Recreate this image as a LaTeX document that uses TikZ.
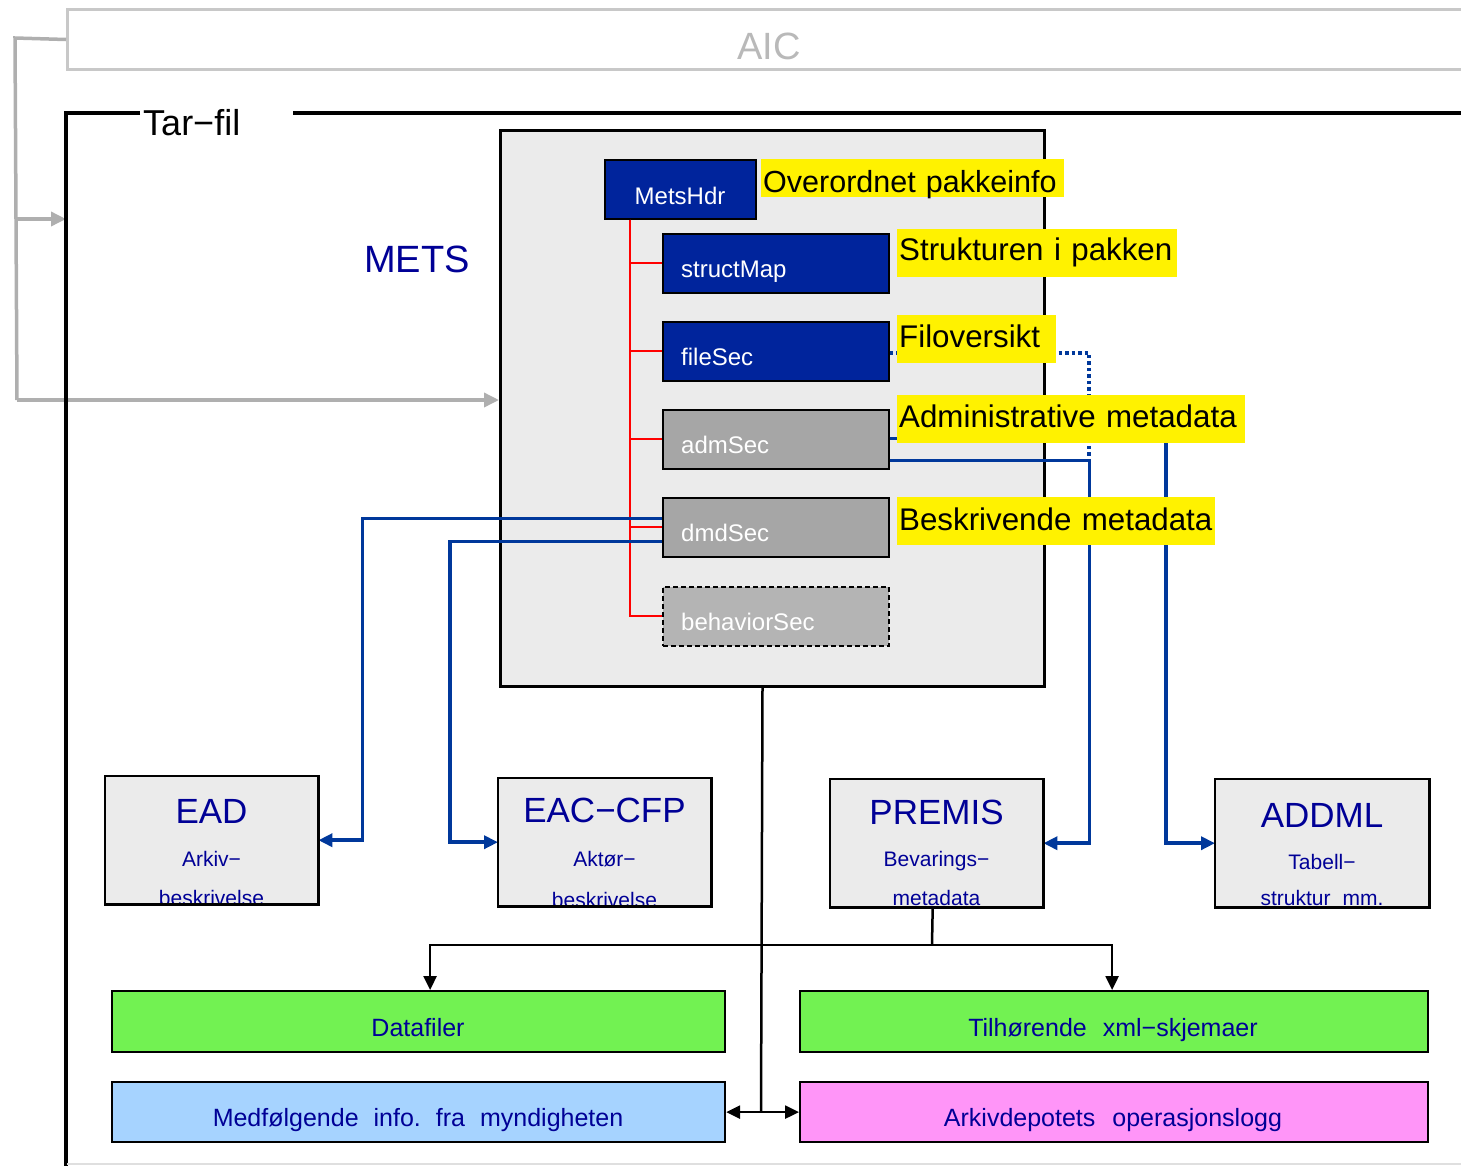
\documentclass[tikz,border=0pt]{standalone}
\usepackage{fontspec}
\setmainfont{Liberation Sans}
\usetikzlibrary{arrows.meta,calc}
\definecolor{metsbg}{RGB}{235,235,235}
\definecolor{secblue}{RGB}{0,36,156}
\definecolor{secgray}{RGB}{166,166,166}
\definecolor{behgray}{RGB}{180,180,180}
\definecolor{linkblue}{RGB}{0,56,155}
\definecolor{txtblue}{RGB}{0,0,150}
\definecolor{aicgray}{RGB}{200,200,200}
\definecolor{aictxt}{RGB}{185,185,185}
\definecolor{conngray}{RGB}{175,175,175}
\definecolor{boxgreen}{RGB}{114,242,82}
\definecolor{boxlblue}{RGB}{166,211,255}
\definecolor{boxpink}{RGB}{255,149,248}
\newcommand\fsz[1]{\fontsize{#1}{#1}\selectfont}
\begin{document}
\begin{tikzpicture}[x=1pt,y=-1pt,
  secbox/.style={draw=black,line width=1.5pt,minimum height=59pt,inner sep=0pt,anchor=north west},
  sectxt/.style={text=white,font=\fsz{24},anchor=base west,inner sep=0pt},
  ylab/.style={fill=yellow,anchor=north west,inner xsep=2pt,inner ysep=0pt,font=\fsz{31.3},align=left},
  blink/.style={draw=linkblue,line width=3.5pt},
  btip/.style={-{Triangle[length=14pt,width=13pt]}},
  gconn/.style={draw=conngray,line width=3.5pt},
  blk/.style={draw=black,line width=2.5pt},
  lowbox/.style={fill=metsbg,anchor=north west,inner sep=0pt,minimum width=213pt,minimum height=128pt},
  lowframe/.style={draw=black,line width=2.2pt},
  bigtxt/.style={text=txtblue,font=\fsz{35},anchor=base,inner sep=0pt},
  subtxt/.style={text=txtblue,font=\fsz{21},anchor=base,inner sep=0pt},
  botbox/.style={draw=black,line width=2.2pt,anchor=north west,inner sep=0pt,minimum height=61pt},
  bottxt/.style={text=txtblue,font=\fsz{25},anchor=base,inner sep=0pt}
]
\useasboundingbox (0,0) rectangle (1461,1165);

% AIC
\node[draw=aicgray,line width=3pt,anchor=north west,minimum width=1420pt,minimum height=60pt,inner sep=0pt] (aic) at (66,8) {};
\node[text=aictxt,font=\fsz{38},anchor=base,inner sep=0pt] (aictext) at (769,59) {AIC};

% gray connectors
\coordinate (gtop) at (15,38);
\coordinate (gturn) at (17,400);
\coordinate (gbr) at (16,219);
\coordinate (tarL) at (66,219);

% METS box
\node[draw=black,line width=3pt,fill=metsbg,anchor=north west,minimum width=544pt,minimum height=556pt,inner sep=0pt] (mets) at (499,129) {};

\draw[gconn] (aic.west) -- (gtop) -- (gturn);
\draw[gconn,-{Triangle[length=15pt,width=14pt]}] (gturn) -- (mets.west |- gturn);
\draw[gconn,-{Triangle[length=15pt,width=14pt]}] (gbr) -- (tarL);

% Tar-fil frame
\draw[black,line width=3.5pt] (140,113) -- (66,113) -- (66,1180);
\draw[black,line width=3.5pt] (293,113) -- (1480,113);
\draw[gray!25,line width=1.5pt] (67,1164) -- (1480,1164);
\node[font=\fsz{36},anchor=base west,inner sep=0pt] (tarfil) at (143,135) {Tar−fil};

\node[text=txtblue,font=\fsz{38},anchor=base west,inner sep=0pt] (metslabel) at (364,272) {METS};

% sections
\node[secbox,fill=secblue,minimum width=151pt] (metshdr) at (604,159) {};
\node[secbox,fill=secblue,minimum width=226pt] (structmap) at (662,233) {};
\node[secbox,fill=secblue,minimum width=226pt] (filesec) at (662,321) {};
\node[secbox,fill=secgray,minimum width=226pt] (admsec) at (662,409) {};
\node[secbox,fill=secgray,minimum width=226pt] (dmdsec) at (662,497) {};
\node[secbox,fill=behgray,minimum width=226pt,dash pattern=on 5pt off 3pt] (behsec) at (662,586) {};

\node[sectxt,anchor=base] (tmetshdr) at (680,204) {MetsHdr};
\node[sectxt] (tstructmap) at (681,277) {structMap};
\node[sectxt] (tfilesec) at (681,365) {fileSec};
\node[sectxt] (tadmsec) at (681,453) {admSec};
\node[sectxt] (tdmdsec) at (681,541) {dmdSec};
\node[sectxt] (tbehsec) at (681,630) {behaviorSec};

% red tree
\draw[red,line width=2pt] ($(metshdr.south west)+(26,0)$) |- (structmap.west);
\draw[red,line width=2pt] ($(metshdr.south west)+(26,0)$) |- (filesec.west);
\draw[red,line width=2pt] ($(metshdr.south west)+(26,0)$) |- (admsec.west);
\draw[red,line width=2pt] ($(metshdr.south west)+(26,0)$) |- (dmdsec.west);
\draw[red,line width=2pt] ($(metshdr.south west)+(26,0)$) |- (behsec.west);

% lower boxes (fill)
\node[lowbox] (ead) at (105,776) {};
\node[lowbox] (eac) at (498,778) {};
\node[lowbox] (premis) at (830,779) {};
\node[lowbox,minimum width=214pt] (addml) at (1215,779) {};

% blue links
\draw[blink,btip] ($(dmdsec.west)+(0,-9)$) -| ($(ead.east)+(44,0)$) -- (ead.east);
\draw[blink,btip] ($(dmdsec.west)+(0,14)$) -| ($(eac.west)+(-48,0)$) -- (eac.west);
\draw[blink,btip] ($(admsec.east)+(0,21)$) -| ($(premis.east)+(46,0)$) -- (premis.east);
\draw[blink,btip] ($(admsec.east)+(0,-1)$) -| ($(addml.west)+(-49,0)$) -- (addml.west);
\coordinate (dotend) at (1089,459);
\draw[draw=linkblue,line width=3.5pt,dash pattern=on 3.5pt off 3pt] ($(filesec.east)+(0,1.5)$) -| (dotend);

% yellow labels
\node[ylab,text width=299pt,text height=33pt,text depth=5pt,font=\fsz{30.5}] (l1) at (761,159) {\mbox{Overordnet pakkeinfo}};
\node[ylab,text width=276pt,text height=31pt,text depth=17pt] (l2) at (897,229) {\mbox{Strukturen i pakken}};
\node[ylab,text width=155pt,text height=32pt,text depth=16pt] (l3) at (897,315) {\mbox{Filoversikt}};
\node[ylab,text width=344pt,text height=32pt,text depth=16pt] (l4) at (897,395) {\mbox{Administrative metadata}};
\node[ylab,text width=314pt,text height=33pt,text depth=15pt] (l5) at (897,497) {\mbox{Beskrivende metadata}};

% lower box texts
\node[bigtxt] (teadA) at (211.5,823) {EAD};
\node[subtxt] (teadB) at (211.5,866) {Arkiv−};
\node[subtxt] (teadC) at (211.5,905) {beskrivelse};
\node[bigtxt] (teacA) at (604.5,822) {EAC−CFP};
\node[subtxt] (teacB) at (604.5,866) {Aktør−};
\node[subtxt] (teacC) at (604.5,907) {beskrivelse};
\node[bigtxt] (tpremA) at (936.5,824) {PREMIS};
\node[subtxt] (tpremB) at (936.5,866) {Bevarings−};
\node[subtxt] (tpremC) at (936.5,905) {metadata};
\node[bigtxt] (taddA) at (1322,827) {ADDML};
\node[subtxt] (taddB) at (1322,869) {Tabell−};
\node[subtxt] (taddC) at (1322,905) {struktur\hspace{12pt}mm.};

\draw[lowframe] (ead.south west) rectangle (ead.north east);
\draw[lowframe] (eac.south west) rectangle (eac.north east);
\draw[lowframe] (premis.south west) rectangle (premis.north east);
\draw[lowframe] (addml.south west) rectangle (addml.north east);

% bottom boxes
\node[botbox,fill=boxgreen,minimum width=613pt] (datafiler) at (111,990) {};
\node[botbox,fill=boxgreen,minimum width=628pt] (xmlsk) at (799,990) {};
\node[botbox,fill=boxlblue,minimum width=613pt,minimum height=60pt] (medf) at (111,1081) {};
\node[botbox,fill=boxpink,minimum width=628pt,minimum height=60pt] (arkiv) at (799,1081) {};

\node[bottxt] (tdata) at (418,1036) {Datafiler};
\node[bottxt] (txml) at (1113,1036) {Tilhørende\hspace{16pt}xml−skjemaer};
\node[bottxt] (tmedf) at (418,1126) {Medfølgende\hspace{15pt}info.\hspace{15pt}fra\hspace{15pt}myndigheten};
\node[bottxt] (tarkiv) at (1113,1126) {Arkivdepotets\hspace{17pt}operasjonslogg};

% black connectors
\coordinate (junc) at (761,1111);
\draw[blk] ($(mets.south)+(-10,0)$) -- (junc);
\draw[blk,{Triangle[length=14pt,width=13pt]}-{Triangle[length=14pt,width=13pt]}] (medf.east) -- (arkiv.west);
\coordinate (hmid) at (932,945);
\draw[blk] ($(premis.south)+(-4,0)$) -- (hmid);
\draw[blk,-{Triangle[length=14pt,width=13pt]}] (hmid) -| ($(datafiler.north)+(11.5,0)$);
\draw[blk,-{Triangle[length=14pt,width=13pt]}] (hmid) -| ($(xmlsk.north)+(-2,0)$);
\end{tikzpicture}
\end{document}
